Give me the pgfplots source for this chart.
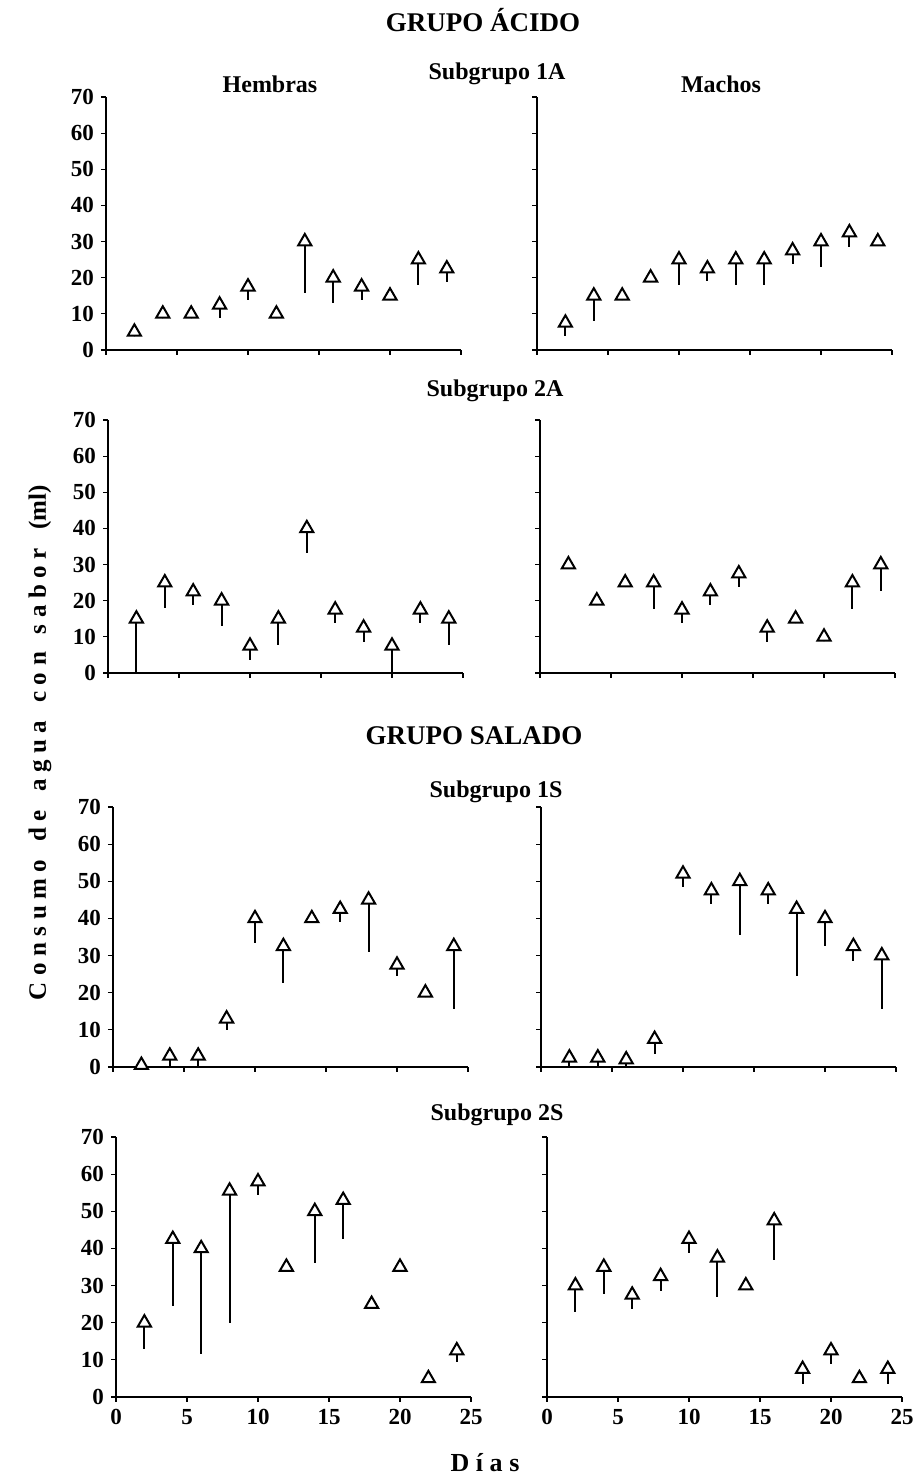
\documentclass[border=0pt]{standalone}
\usepackage{fontspec}
\setmainfont{Liberation Serif}
\usepackage{pgfplots}
\usepackage{pgfplotstable}
\pgfplotsset{compat=1.18}

% --- data: day, mean intake (ml), lower error ---
\pgfplotstableread{
x  y    e
2  5    0
4  10   0
6  10   0
8  12.5 3.6
10 17.5 3.7
12 10   0
14 30   14.1
16 20   7.1
18 17.5 3.7
20 15   0
22 25   7
24 22.5 3.6
}\aH
\pgfplotstableread{
x  y    e
2  7.5  3.6
4  15   7
6  15   0
8  20   0
10 25   7.1
12 22.5 3.5
14 25   7.1
16 25   7.1
18 27.5 3.6
20 30   7.1
22 32.5 3.9
24 30   0
}\aM
\pgfplotstableread{
x  y    e
2  15   15
4  25   7
6  22.5 3.6
8  20   7.1
10 7.5  3.8
12 15   7.2
14 40   6.9
16 17.5 3.7
18 12.5 3.9
20 7.5  7.5
22 17.5 3.7
24 15   7.2
}\bH
\pgfplotstableread{
x  y    e
2  30   0
4  20   0
6  25   0
8  25   7.2
10 17.5 3.8
12 22.5 3.7
14 27.5 3.7
16 12.5 3.8
18 15   0
20 10   0
22 25   7.4
24 30   7.3
}\bM
\pgfplotstableread{
x  y    e
2  0.5  0
4  3    3
6  3    3
8  13   3
10 40   6.5
12 32.5 10
14 40   0
16 42.5 3.5
18 45   14
20 27.5 3
22 20   0
24 32.5 17
}\cH
\pgfplotstableread{
x  y    e
2  2.5  2.5
4  2.5  2.5
6  2    2
8  7.5  4
10 52   3.5
12 47.5 3.7
14 50   14.4
16 47.5 3.7
18 42.5 18
20 40   7.3
22 32.5 3.9
24 30   14.5
}\cM
\pgfplotstableread{
x  y    e
2  20   7.1
4  42.5 17.9
6  40   28.3
8  55.5 35.7
10 58   3.6
12 35   0
14 50   14
16 53   10.5
18 25   0
20 35   0
22 5    0
24 12.5 3.2
}\dH
\pgfplotstableread{
x  y    e
2  30   7.2
4  35   7.2
6  27.5 3.8
8  32.5 3.9
10 42.5 3.8
12 37.5 10.7
14 30   0
16 47.5 10.7
18 7.5  3.9
20 12.5 3.5
22 5    0
24 7.5  3.9
}\dM

\pgfplotsset{
  panel/.style={
    scale only axis, width=177.5pt,
    xmin=0, xmax=25, ymin=0, ymax=70,
    axis x line*=bottom, axis y line*=left,
    axis line style={black, line width=0.8pt},
    xtick={0,5,...,25}, ytick={0,10,...,70},
    tick align=outside, major tick length=2.5pt,
    tick style={black, line width=0.6pt},
    tick label style={font=\bfseries\fontsize{11.5pt}{13pt}\selectfont},
    /pgf/number format/assume math mode=true,
    clip=false, anchor=south west,
  },
  noxlabels/.style={xticklabels={}},
  noylabels/.style={yticklabels={}},
}

% error bars first, then the open triangles on top
\newcommand{\series}[1]{%
  \addplot[only marks, mark=none,
    error bars/.cd, y dir=minus, y explicit, error mark=none,
    error bar style={black, line width=1pt}]
    table[x=x, y=y, y error=e] {#1};
  \addplot[only marks, mark=triangle*, mark size=3.8pt,
    mark options={fill=white, draw=black, line width=1pt}]
    table[x=x, y=y] {#1};
}
\newcommand{\ls}{\hspace{3.3pt}}
\newcommand{\ws}{\hspace{9pt}}

\begin{document}
\begin{tikzpicture}
\useasboundingbox (0,0) rectangle (458pt,739pt);

% Grupo acido, subgrupo 1A
\begin{axis}[panel, height=126.5pt, noxlabels, at={(53pt,564pt)}]
\series{\aH}
\end{axis}
\begin{axis}[panel, height=126.5pt, noxlabels, noylabels, at={(268.5pt,564pt)}]
\series{\aM}
\end{axis}

% Grupo acido, subgrupo 2A
\begin{axis}[panel, height=126.5pt, noxlabels, at={(54pt,402.5pt)}]
\series{\bH}
\end{axis}
\begin{axis}[panel, height=126.5pt, noxlabels, noylabels, at={(270pt,402.5pt)}]
\series{\bM}
\end{axis}

% Grupo salado, subgrupo 1S
\begin{axis}[panel, height=130pt, noxlabels, at={(56.5pt,205.5pt)}]
\series{\cH}
\end{axis}
\begin{axis}[panel, height=130pt, noxlabels, noylabels, at={(270.5pt,205.5pt)}]
\series{\cM}
\end{axis}

% Grupo salado, subgrupo 2S
\begin{axis}[panel, height=130pt, at={(58pt,40.5pt)}]
\series{\dH}
\end{axis}
\begin{axis}[panel, height=130pt, noylabels, at={(273.5pt,40.5pt)}]
\series{\dM}
\end{axis}

% titles
\begin{scope}[x=0.5pt, y=0.5pt, every node/.style={font=\bfseries\fontsize{12pt}{14pt}\selectfont, anchor=base, inner sep=0pt}]
\node[font=\bfseries\fontsize{13.5pt}{16pt}\selectfont] at (483,1446) {GRUPO ÁCIDO};
\node at (497,1398) {Subgrupo 1A};
\node at (270,1385) {Hembras};
\node at (721,1385) {Machos};
\node at (495,1081) {Subgrupo 2A};
\node[font=\bfseries\fontsize{13.5pt}{16pt}\selectfont] at (474,733) {GRUPO SALADO};
\node at (496,680) {Subgrupo 1S};
\node at (497,357) {Subgrupo 2S};
\node[font=\bfseries\fontsize{13pt}{15pt}\selectfont] at (485,6) {D\ls í\ls a\ls s};
\node[rotate=90, anchor=center, font=\bfseries\fontsize{12.5pt}{15pt}\selectfont] at (40,735)
  {C\ls o\ls n\ls s\ls u\ls m\ls o\ws d\ls e\ws a\ls g\ls u\ls a\ws c\ls o\ls n\ws s\ls a\ls b\ls o\ls r\ws (ml)};
\end{scope}
\end{tikzpicture}
\end{document}
